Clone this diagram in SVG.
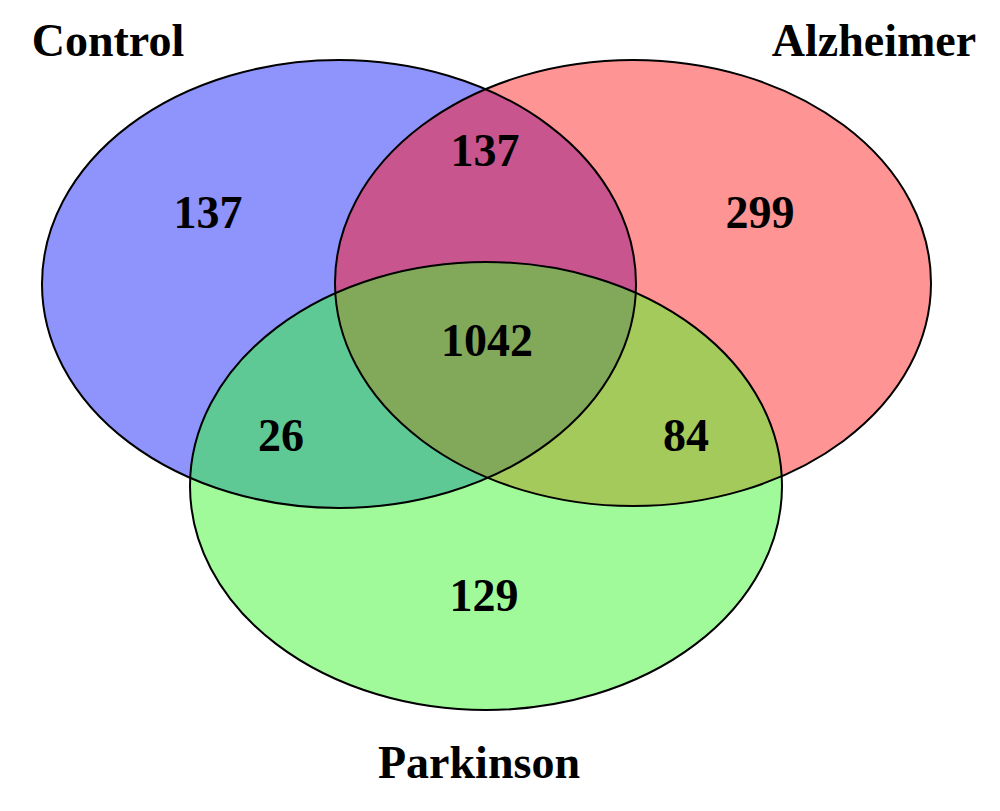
<svg xmlns="http://www.w3.org/2000/svg" width="1000" height="811" viewBox="0 0 1000 811">
<style>
text{font-family:"Liberation Serif","Times New Roman",serif;font-weight:bold;font-size:46px;text-anchor:middle;fill:#000}
.o{fill:none;stroke:#000;stroke-width:2}
</style>
<defs>
<clipPath id="cb"><ellipse cx="339" cy="284" rx="297" ry="224"/></clipPath>
<clipPath id="cr"><ellipse cx="633" cy="283" rx="298" ry="223"/></clipPath>
<clipPath id="cg"><ellipse cx="486" cy="486" rx="296" ry="224"/></clipPath>
</defs>
<rect width="1000" height="811" fill="#fff"/>
<g id="fills">
<ellipse cx="339" cy="284" rx="297" ry="224" fill="#8F94FC"/>
<ellipse cx="633" cy="283" rx="298" ry="223" fill="#FF9494"/>
<ellipse cx="486" cy="486" rx="296" ry="224" fill="#A0FA9A"/>
<ellipse cx="633" cy="283" rx="298" ry="223" fill="#C9558F" clip-path="url(#cb)"/>
<ellipse cx="486" cy="486" rx="296" ry="224" fill="#5EC994" clip-path="url(#cb)"/>
<ellipse cx="486" cy="486" rx="296" ry="224" fill="#A3CA5A" clip-path="url(#cr)"/>
<g clip-path="url(#cb)"><ellipse cx="486" cy="486" rx="296" ry="224" fill="#82A85A" clip-path="url(#cr)"/></g>
</g>
<g id="control"><ellipse class="o" cx="339" cy="284" rx="297" ry="224"/><text x="108" y="56">Control</text></g>
<g id="alzheimer"><ellipse class="o" cx="633" cy="283" rx="298" ry="223"/><text x="874" y="56">Alzheimer</text></g>
<g id="parkinson"><ellipse class="o" cx="486" cy="486" rx="296" ry="224"/><text x="479" y="778">Parkinson</text></g>
<g id="counts">
<text x="208" y="228">137</text>
<text x="485" y="166">137</text>
<text x="760" y="228">299</text>
<text x="487" y="356">1042</text>
<text x="281" y="451">26</text>
<text x="686" y="451">84</text>
<text x="484" y="611">129</text>
</g>
<g id="connectors"/>
</svg>
